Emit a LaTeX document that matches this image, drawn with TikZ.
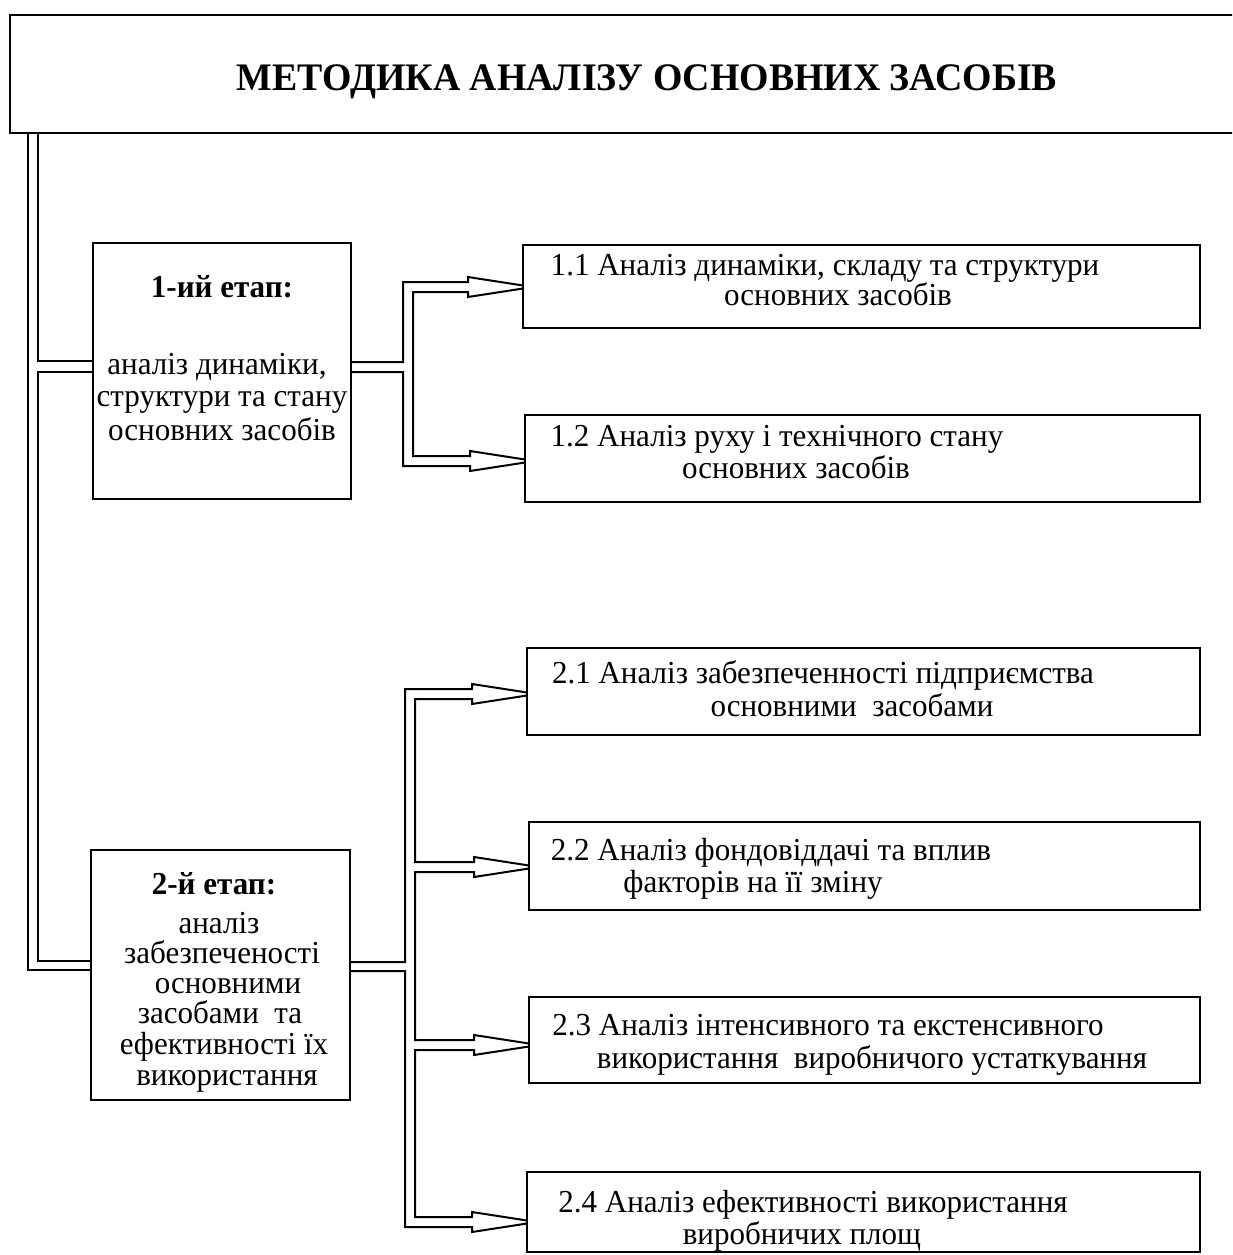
\documentclass[tikz,border=0pt]{standalone}
\usepackage{fontspec}
\setmainfont[FakeStretch=0.97]{Liberation Serif}
\usetikzlibrary{calc}
\tikzset{
  box/.style={draw, line width=2pt, inner sep=0pt, outer sep=0pt, anchor=north west},
  ln/.style={line width=2pt, line join=miter},
  txt/.style={font=\fontsize{32}{32}\selectfont, inner sep=0pt, anchor=base},
  btxt/.style={font=\fontsize{32}{32}\selectfont\bfseries, inner sep=0pt, anchor=base},
  ttl/.style={font=\fontsize{39}{39}\selectfont\bfseries, inner sep=0pt, anchor=base}
}
\begin{document}
\begin{tikzpicture}[x=1pt,y=-1pt]
\useasboundingbox (0,0) rectangle (1232,1255);
\clip (0,0) rectangle (1232,1255);
% boxes
\node[box, minimum width=1240pt, minimum height=118pt] (title) at (10,15) {};
\node[box, minimum width=258pt, minimum height=256pt] (b1) at (93,243) {};
\node[box, minimum width=259pt, minimum height=250pt] (b2) at (91,850) {};
\node[box, minimum width=677pt, minimum height=83pt] (b11) at (523,245) {};
\node[box, minimum width=675pt, minimum height=87pt] (b12) at (525,415) {};
\node[box, minimum width=673pt, minimum height=87pt] (b21) at (527,648) {};
\node[box, minimum width=671pt, minimum height=88pt] (b22) at (529,822) {};
\node[box, minimum width=671pt, minimum height=86pt] (b23) at (529,997) {};
\node[box, minimum width=673pt, minimum height=80pt] (b24) at (527,1172) {};
% texts
\node[ttl] (t0) at (647,90) {МЕТОДИКА АНАЛІЗУ ОСНОВНИХ ЗАСОБІВ};
\node[btxt] (t1a) at (222,297) {1-ий етап:};
\node[txt] (t1b) at (217,374) {аналіз динаміки,};
\node[txt] (t1c) at (222,406) {структури та стану};
\node[txt] (t1d) at (222,440) {основних засобів};
\node[btxt] (t2a) at (214,894) {2-й етап:};
\node[txt] (t2b) at (219,933) {аналіз};
\node[txt] (t2c) at (222,963) {забезпеченості};
\node[txt] (t2d) at (228,993) {основними};
\node[txt] (t2e) at (220,1023) {засобами\ \ та};
\node[txt] (t2f) at (224,1054) {ефективності їх};
\node[txt] (t2g) at (227,1085) {використання};
\node[txt] (s11a) at (825,275) {1.1 Аналіз динаміки, складу та структури};
\node[txt] (s11b) at (838,305) {основних засобів};
\node[txt] (s12a) at (777,446) {1.2 Аналіз руху і технічного стану};
\node[txt] (s12b) at (796,478) {основних засобів};
\node[txt] (s21a) at (823,683) {2.1 Аналіз забезпеченності підприємства};
\node[txt] (s21b) at (852,716) {основними\ \ засобами};
\node[txt] (s22a) at (771,860) {2.2 Аналіз фондовіддачі та вплив};
\node[txt] (s22b) at (753,892) {факторів на її зміну};
\node[txt] (s23a) at (828,1035) {2.3 Аналіз інтенсивного та екстенсивного};
\node[txt] (s23b) at (872,1068) {використання\ \ виробничого устаткування};
\node[txt] (s24a) at (813,1212) {2.4 Аналіз ефективності використання};
\node[txt] (s24b) at (802,1244) {виробничих площ};
% arrowhead coordinates
\foreach \n/\yc in {b11/287, b12/461, b21/694, b22/867, b23/1045, b24/1222} {
  \coordinate (\n-t) at (\n.west |- 0,\yc);
  \coordinate (\n-ua) at ($(\n-t)+(-55,-5)$);
  \coordinate (\n-ub) at ($(\n-t)+(-55,-10)$);
  \coordinate (\n-uc) at ($(\n-t)+(0,-1.5)$);
  \coordinate (\n-la) at ($(\n-t)+(-55,5)$);
  \coordinate (\n-lb) at ($(\n-t)+(-55,10)$);
  \coordinate (\n-lc) at ($(\n-t)+(0,1.5)$);
}
% left trunk (double line)
\draw[ln] (28,0 |- title.south) |- (b2.west |- 0,970);
\draw[ln] (38,0 |- title.south) |- (b1.west |- 0,361);
\draw[ln] (b1.west |- 0,372) -| (38,961) -- (b2.west |- 0,961);
% stage 1 branches
\draw[ln] (b1.east |- 0,362) -| (403,0 |- b11-ua) -- (b11-ua) -- (b11-ub) -- (b11-uc);
\draw[ln] (b11-lc) -- (b11-lb) -- (b11-la) -| (413,0 |- b12-ua) -- (b12-ua) -- (b12-ub) -- (b12-uc);
\draw[ln] (b1.east |- 0,372) -| (403,0 |- b12-la) -- (b12-la) -- (b12-lb) -- (b12-lc);
% stage 2 branches
\draw[ln] (b2.east |- 0,962) -| (405,0 |- b21-ua) -- (b21-ua) -- (b21-ub) -- (b21-uc);
\draw[ln] (b21-lc) -- (b21-lb) -- (b21-la) -| (415,0 |- b22-ua) -- (b22-ua) -- (b22-ub) -- (b22-uc);
\draw[ln] (b22-lc) -- (b22-lb) -- (b22-la) -| (415,0 |- b23-ua) -- (b23-ua) -- (b23-ub) -- (b23-uc);
\draw[ln] (b23-lc) -- (b23-lb) -- (b23-la) -| (415,0 |- b24-ua) -- (b24-ua) -- (b24-ub) -- (b24-uc);
\draw[ln] (b2.east |- 0,971) -| (405,0 |- b24-la) -- (b24-la) -- (b24-lb) -- (b24-lc);
\end{tikzpicture}
\end{document}
